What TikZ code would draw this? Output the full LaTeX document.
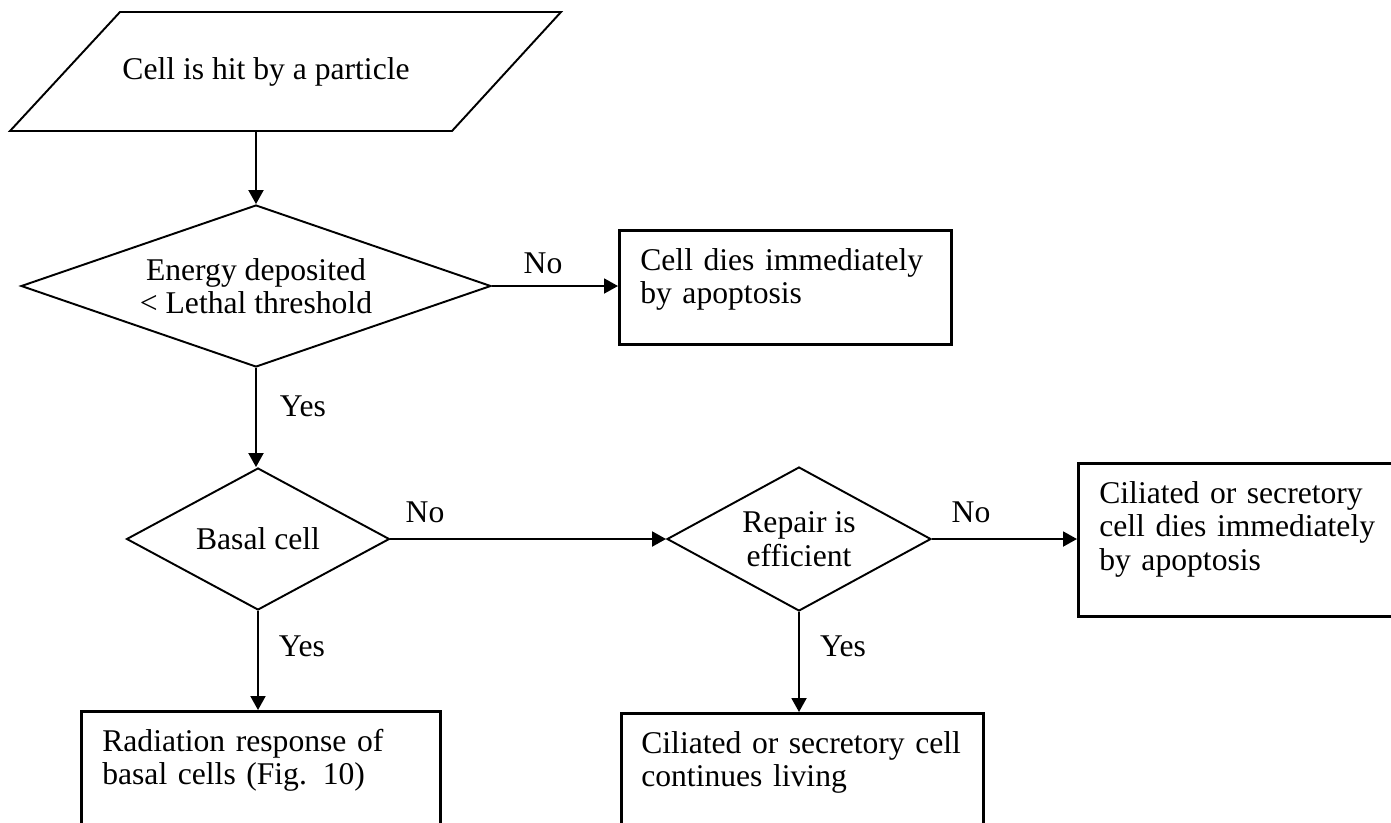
\documentclass[tikz,border=0pt]{standalone}
\usepackage{fontspec}
\setmainfont{Liberation Serif}
\usetikzlibrary{shapes.geometric,arrows.meta}
\begin{document}
\begin{tikzpicture}[x=0.02cm,y=-0.02cm,line width=1.1pt,every node/.style={font=\fontsize{18}{19.1}\selectfont},
  decision/.style={diamond,draw,inner sep=0pt,align=center},
  outbox/.style={draw,line width=1.5pt,anchor=north west,align=left,inner xsep=0.42cm,inner ysep=0pt,text height=0.8cm},
  arr/.style={-{Triangle[length=0.28cm,width=0.3cm]}}]
\useasboundingbox (0,0) rectangle (1391,822);
\clip (0,0) rectangle (1391,822);
\draw (120,12) -- (561,12) -- (452,131) -- (10,131) -- cycle;
\node (hit) at (266,72) {Cell is hit by a particle};
\coordinate (hitout) at (256,131);
\node[decision,shape aspect=2.9,minimum width=9.4cm,minimum height=3.24cm] (energy) at (256,286) {Energy deposited\\< Lethal threshold};
\node[decision,shape aspect=1.85,minimum width=5.26cm,minimum height=2.84cm] (basal) at (258,539) {Basal cell};
\node[decision,shape aspect=1.83,minimum width=5.28cm,minimum height=2.88cm] (repair) at (799,539) {Repair is\\efficient};
\node[outbox,text width=5.8cm,text depth=1.48cm] (die1) at (618,229) {Cell dies immediately\\by apoptosis};
\node[outbox,text width=5.62cm,text depth=2.26cm] (die2) at (1077,462) {Ciliated or secretory\\cell dies immediately\\by apoptosis};
\node[outbox,text width=6.34cm,text depth=1.64cm] (rad) at (80,710) {Radiation response of\\basal cells (Fig. 10)};
\node[outbox,inner xsep=0.4cm,text width=6.45cm,text depth=1.64cm] (live) at (620,712) {Ciliated or secretory cell\\continues living};
\foreach \n/\x/\y/\t in {no1/543/263/No,no2/425/512/No,no3/971/512/No,yes1/303/406/Yes,yes2/302/646/Yes,yes3/843/646/Yes}
  \node (\n) at (\x,\y) {\t};
\draw[arr] (hitout) -- (hitout |- energy.north);
\draw[arr] (energy.east) -- (die1.west |- energy.east);
\draw[arr] (energy.south) -- (energy.south |- basal.north);
\draw[arr] (basal.east) -- (repair.west);
\draw[arr] (repair.east) -- (die2.west |- repair.east);
\draw[arr] (basal.south) -- (basal.south |- rad.north);
\draw[arr] (repair.south) -- (repair.south |- live.north);
\end{tikzpicture}
\end{document}
